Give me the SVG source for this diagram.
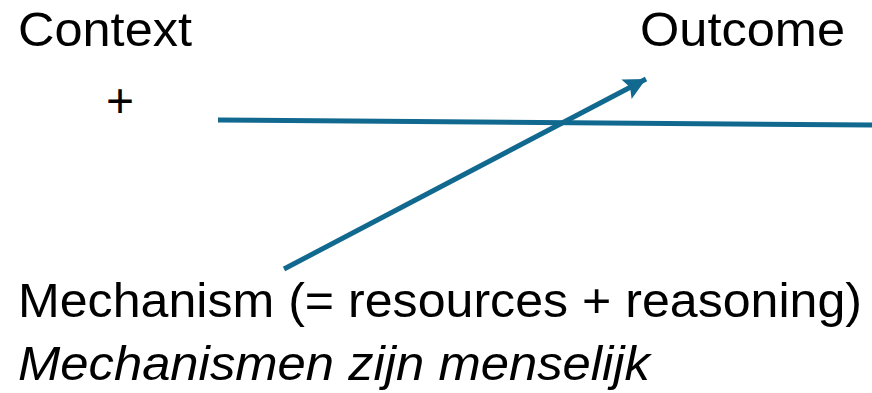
<svg xmlns="http://www.w3.org/2000/svg" width="872" height="393" viewBox="0 0 872 393">
  <style>
    .t { font-family: "Liberation Sans", Arial, sans-serif; font-size: 48px; fill: #000; }
    .i { font-style: italic; }
    .c { stroke: #12698f; stroke-width: 5; fill: none; }
  </style>
  <defs>
    <marker id="ah" markerUnits="userSpaceOnUse" markerWidth="26" markerHeight="24" refX="22" refY="11" orient="auto">
      <path d="M0,0 L22,11 L0,22 L4,11 Z" fill="#12698f"/>
    </marker>
  </defs>
  <rect width="872" height="393" fill="#fff"/>
  <g id="context"><text class="t" x="18" y="46" textLength="174" lengthAdjust="spacingAndGlyphs">Context</text></g>
  <g id="plus"><text class="t" x="106" y="117">+</text></g>
  <g id="outcome"><text class="t" x="640" y="46" textLength="205" lengthAdjust="spacingAndGlyphs">Outcome</text></g>
  <g id="mechanism"><text class="t" x="18" y="317" textLength="844" lengthAdjust="spacingAndGlyphs">Mechanism (= resources + reasoning)</text></g>
  <g id="note"><text class="t i" x="18" y="380" textLength="632" lengthAdjust="spacingAndGlyphs">Mechanismen zijn menselijk</text></g>
  <g id="connectors">
    <line class="c" x1="218" y1="120" x2="872" y2="125"/>
    <line class="c" x1="284" y1="269" x2="646" y2="79" marker-end="url(#ah)"/>
  </g>
</svg>
